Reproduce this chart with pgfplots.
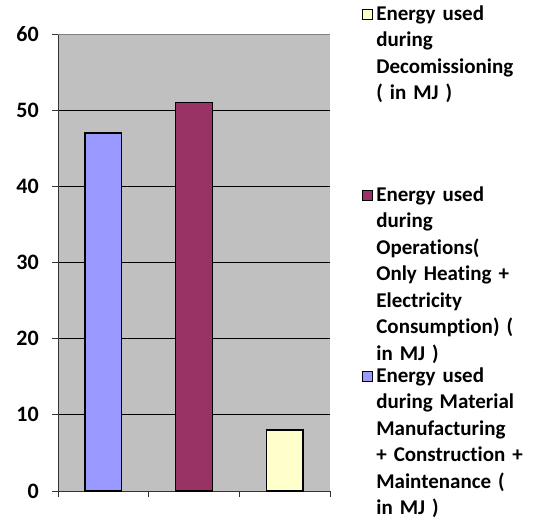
\documentclass[border=0pt]{standalone}
\usepackage{pgfplots}
\pgfplotsset{compat=1.18}
\usepackage{fontspec}
\setmainfont{Carlito}[Ligatures=NoCommon]

\definecolor{barblue}{HTML}{9999FF}
\definecolor{barplum}{HTML}{993366}
\definecolor{baryellow}{HTML}{FFFFCC}
\definecolor{plotgray}{HTML}{C0C0C0}

\begin{document}
\begin{tikzpicture}
  \useasboundingbox (0,0) rectangle (533pt,520pt);
  \begin{axis}[
    at={(58pt,29pt)}, anchor=south west,
    scale only axis,
    width=272pt, height=457pt,
    ybar, bar shift=0pt, bar width=0.405,
    xmin=0.5, xmax=3.5,
    ymin=0, ymax=60,
    axis x line*=bottom,
    axis y line*=left,
    axis line style={black!80, line width=0.8pt},
    axis background/.style={fill=plotgray},
    xtick={0.5,1.5,2.5,3.5},
    xticklabels={},
    ytick={0,10,...,50},
    extra y ticks={60},
    extra y tick style={grid=major, major grid style={draw=black!50, line width=1pt}},
    ymajorgrids,
    major grid style={draw=black, line width=0.8pt},
    tick align=outside,
    major tick length=6pt,
    tick style={black!80, line width=0.8pt},
    yticklabel={\textbf{\pgfmathprintnumber[assume math mode=true]{\tick}}},
    ticklabel style={font=\bfseries\fontsize{22}{26}\selectfont},
    yticklabel style={inner sep=0pt, anchor=east, xshift=-13pt},
    reverse legend,
    legend cell align=left,
    legend style={
      at={(axis description cs:1.118,1.066)}, anchor=north west,
      draw=none, fill=none, inner sep=0pt, row sep=5pt,
      nodes={text width=156pt, align=left, inner sep=0pt,
             text height=16pt, text depth=160pt,
             font=\bfseries\fontsize{21}{26.5}\selectfont},
    },
    legend image code/.code={
      \draw[#1, line width=0.8pt] (0pt,73pt) rectangle (10pt,83pt);
      \path (13pt,78pt);
    },
  ]
    \addplot[fill=barblue, draw=black, line width=1.3pt] coordinates {(1,47)};
    \addlegendentry{Energy used\\during Material\\Manufacturing\\+ Construction +\\Maintenance (\\in MJ )}
    \addplot[fill=barplum, draw=black, line width=1.3pt] coordinates {(2,51)};
    \addlegendentry{Energy used\\during\\Operations(\\Only Heating +\\Electricity\\Consumption) (\\in MJ )}
    \addplot[fill=baryellow, draw=black, line width=1.3pt] coordinates {(3,8)};
    \addlegendentry{Energy used\\during\\Decomissioning\\( in MJ )}
  \end{axis}
\end{tikzpicture}
\end{document}
